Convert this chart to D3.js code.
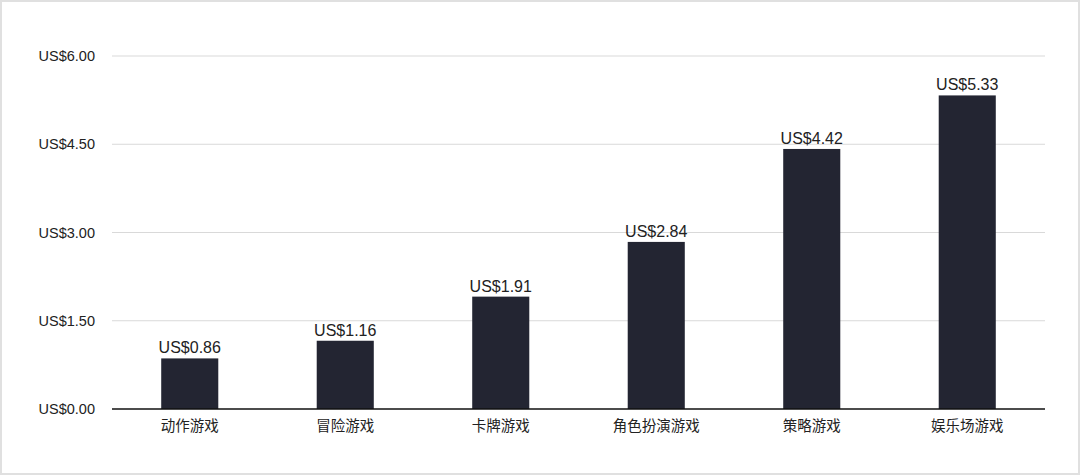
<!DOCTYPE html>
<html><head><meta charset="utf-8">
<script src="https://cdn.jsdelivr.net/npm/d3@7"></script>
<style>
html,body{margin:0;padding:0;background:#fff;}
svg{display:block;}
</style></head>
<body>
<svg id="chart" width="1080" height="475"></svg>
<script>
const categories = ["动作游戏","冒险游戏","卡牌游戏","角色扮演游戏","策略游戏","娱乐场游戏"];
const values = [0.86, 1.16, 1.91, 2.84, 4.42, 5.33];
const tickValues = [0, 1.5, 3, 4.5, 6];

(function(){
const svg = d3.select("#chart");
const W = 1080, H = 475;
svg.append("rect").attr("x",1).attr("y",1).attr("width",W-2).attr("height",H-2)
  .attr("fill","#fff").attr("stroke","#e0e0e0").attr("stroke-width",2);

const mLeft = 112, mRight = 1045, mTop = 56, mBottom = 409;
const x = d3.scaleBand().domain(categories).range([mLeft,mRight]).paddingInner(0.633).paddingOuter(0.3165);
const y = d3.scaleLinear().domain([0,6]).range([mBottom,mTop]);
const fmt = v => "US$" + v.toFixed(2);
const font = "'Liberation Sans', Arial, Helvetica, sans-serif";
const cjk = "'Noto Sans CJK SC', 'Liberation Sans', sans-serif";

// grid
svg.append("g").selectAll("line").data(tickValues.filter(d=>d>0)).join("line")
  .attr("x1",mLeft).attr("x2",mRight).attr("y1",d=>y(d)).attr("y2",d=>y(d))
  .attr("stroke","#d9d9d9").attr("stroke-width",1);

// y axis labels
const yAxis = d3.axisLeft(y).tickValues(tickValues).tickFormat(fmt).tickSize(0).tickPadding(17);
const gy = svg.append("g").attr("transform",`translate(${mLeft},0)`).call(yAxis);
gy.select(".domain").remove();
gy.selectAll("text").attr("font-family",font).attr("font-size","14.5px").attr("fill","#222");

// bars
svg.append("g").selectAll("rect").data(values).join("rect")
  .attr("x",(d,i)=>x(categories[i])).attr("width",x.bandwidth())
  .attr("y",d=>y(d)).attr("height",d=>mBottom-y(d))
  .attr("fill","#232532");

// value labels
svg.append("g").selectAll("text").data(values).join("text")
  .attr("x",(d,i)=>x(categories[i])+x.bandwidth()/2).attr("y",d=>y(d)-5)
  .attr("text-anchor","middle").attr("font-family",font).attr("font-size","16px").attr("fill","#222")
  .text(fmt);

// x axis
const xAxis = d3.axisBottom(x).tickSize(0).tickPadding(12);
const gx = svg.append("g").attr("transform",`translate(0,${mBottom})`).call(xAxis);
gx.select(".domain").attr("stroke","#111").attr("stroke-width",1.5).attr("d",`M${mLeft},0H${mRight}`);
gx.selectAll("text").attr("font-family",cjk).attr("font-size","14.5px").attr("fill","#222");
})();
</script>
</body></html>
